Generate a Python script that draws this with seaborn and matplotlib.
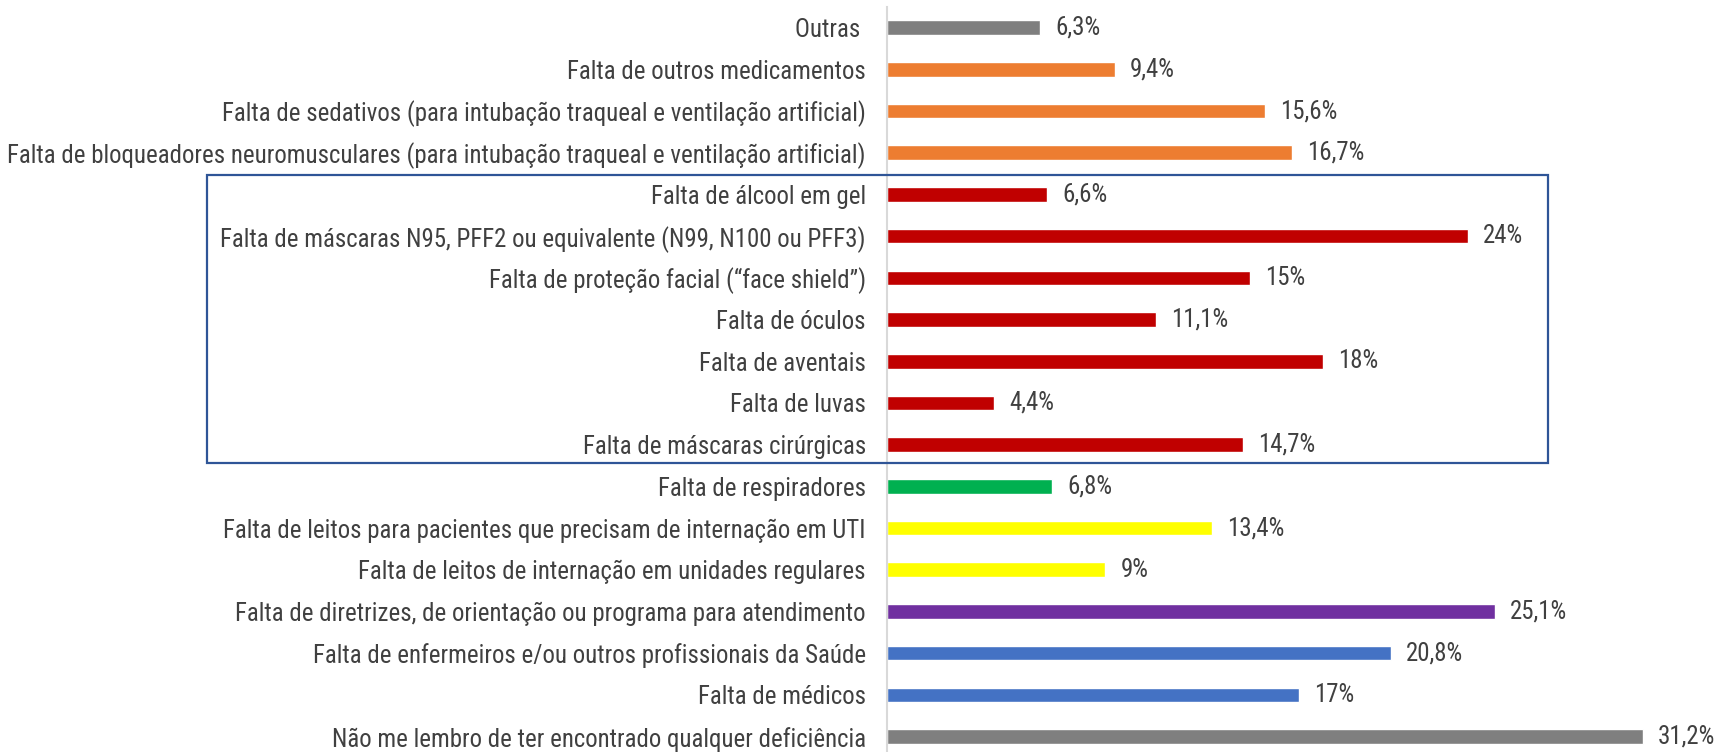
import matplotlib
matplotlib.use("Agg")
import matplotlib.pyplot as plt
from matplotlib import font_manager
import seaborn as sns
import pandas as pd
from matplotlib.patches import Rectangle

categories = [
    "Outras ",
    "Falta de outros medicamentos",
    "Falta de sedativos (para intubação traqueal e ventilação artificial)",
    "Falta de bloqueadores neuromusculares (para intubação traqueal e ventilação artificial)",
    "Falta de álcool em gel",
    "Falta de máscaras N95, PFF2 ou equivalente (N99, N100 ou PFF3)",
    "Falta de proteção facial (“face shield”)",
    "Falta de óculos",
    "Falta de aventais",
    "Falta de luvas",
    "Falta de máscaras cirúrgicas",
    "Falta de respiradores",
    "Falta de leitos para pacientes que precisam de internação em UTI",
    "Falta de leitos de internação em unidades regulares",
    "Falta de diretrizes, de orientação ou programa para atendimento",
    "Falta de enfermeiros e/ou outros profissionais da Saúde",
    "Falta de médicos",
    "Não me lembro de ter encontrado qualquer deficiência",
]
values = [6.3, 9.4, 15.6, 16.7, 6.6, 24, 15, 11.1, 18, 4.4, 14.7, 6.8, 13.4, 9, 25.1, 20.8, 17, 31.2]
colors = ["#7f7f7f", "#ed7d31", "#ed7d31", "#ed7d31",
          "#c00000", "#c00000", "#c00000", "#c00000", "#c00000", "#c00000", "#c00000",
          "#00b050", "#ffff00", "#ffff00", "#7030a0", "#4472c4", "#4472c4", "#7f7f7f"]
value_labels = [f"{v:g}".replace(".", ",") + "%" for v in values]

sns.set_theme(style="white")

# pick a narrow font if any is installed
names = sorted({f.name for f in font_manager.fontManager.ttflist})
narrow = None
for cand in ["Liberation Sans Narrow", "Roboto Condensed", "Open Sans Condensed",
             "Noto Sans Condensed", "DejaVu Sans Condensed"]:
    if cand in names:
        narrow = cand
        break
stretch = "normal"
if narrow is None:
    for f in font_manager.fontManager.ttflist:
        if f.name in ("Noto Sans", "Open Sans", "Roboto", "DejaVu Sans") and \
                (isinstance(f.stretch, str) and "condensed" in f.stretch or
                 (isinstance(f.stretch, int) and f.stretch < 500)):
            narrow = f.name
            stretch = "condensed"
            break
if narrow is None:
    narrow = "Roboto"
plt.rcParams["font.family"] = [narrow, "DejaVu Sans"]
plt.rcParams["font.stretch"] = stretch

W, H = 1733, 752
fig = plt.figure(figsize=(W / 100, H / 100), dpi=100)
ax_left = 887.5 / W
ax = fig.add_axes([ax_left, 0.0, 1.0 - ax_left, 1 - 6.75 / H])

df = pd.DataFrame({"cat": categories, "val": values})
sns.barplot(data=df, y="cat", x="val", hue="cat", palette=colors, orient="h",
            width=0.35, legend=False, ax=ax, saturation=1)

ax.set_xlim(0, (W - 887.5) / 24.2)
ax.set_ylim(17.37, -0.5)
ax.set_xlabel("")
ax.set_ylabel("")
ax.set_xticks([])
for s in ["top", "right", "bottom"]:
    ax.spines[s].set_visible(False)
ax.spines["left"].set_color("#d9d9d9")
ax.spines["left"].set_linewidth(1.5)
ax.tick_params(axis="y", length=0, pad=15.5, labelsize=14, labelcolor="#404040")

# fit font size so that the longest label spans the same width as in the reference
fig.canvas.draw()
r = fig.canvas.get_renderer()
wmax = max(t.get_window_extent(r).width for t in ax.get_yticklabels())
fs = min(20.0, 14 * 862.0 / wmax)
ax.tick_params(axis="y", labelsize=fs)

for i, (v, lab) in enumerate(zip(values, value_labels)):
    ax.annotate(lab, xy=(v, i), xytext=(15, 0), textcoords="offset pixels",
                ha="left", va="center", fontsize=fs, color="#404040")

rect = Rectangle((206.7 / W, 1 - 463 / H), (1548 - 206.7) / W, (463 - 174.6) / H,
                 transform=fig.transFigure, fill=False, edgecolor="#2f5597",
                 linewidth=1.6, zorder=5)
fig.patches.append(rect)

fig.savefig("out.png", dpi=100)
